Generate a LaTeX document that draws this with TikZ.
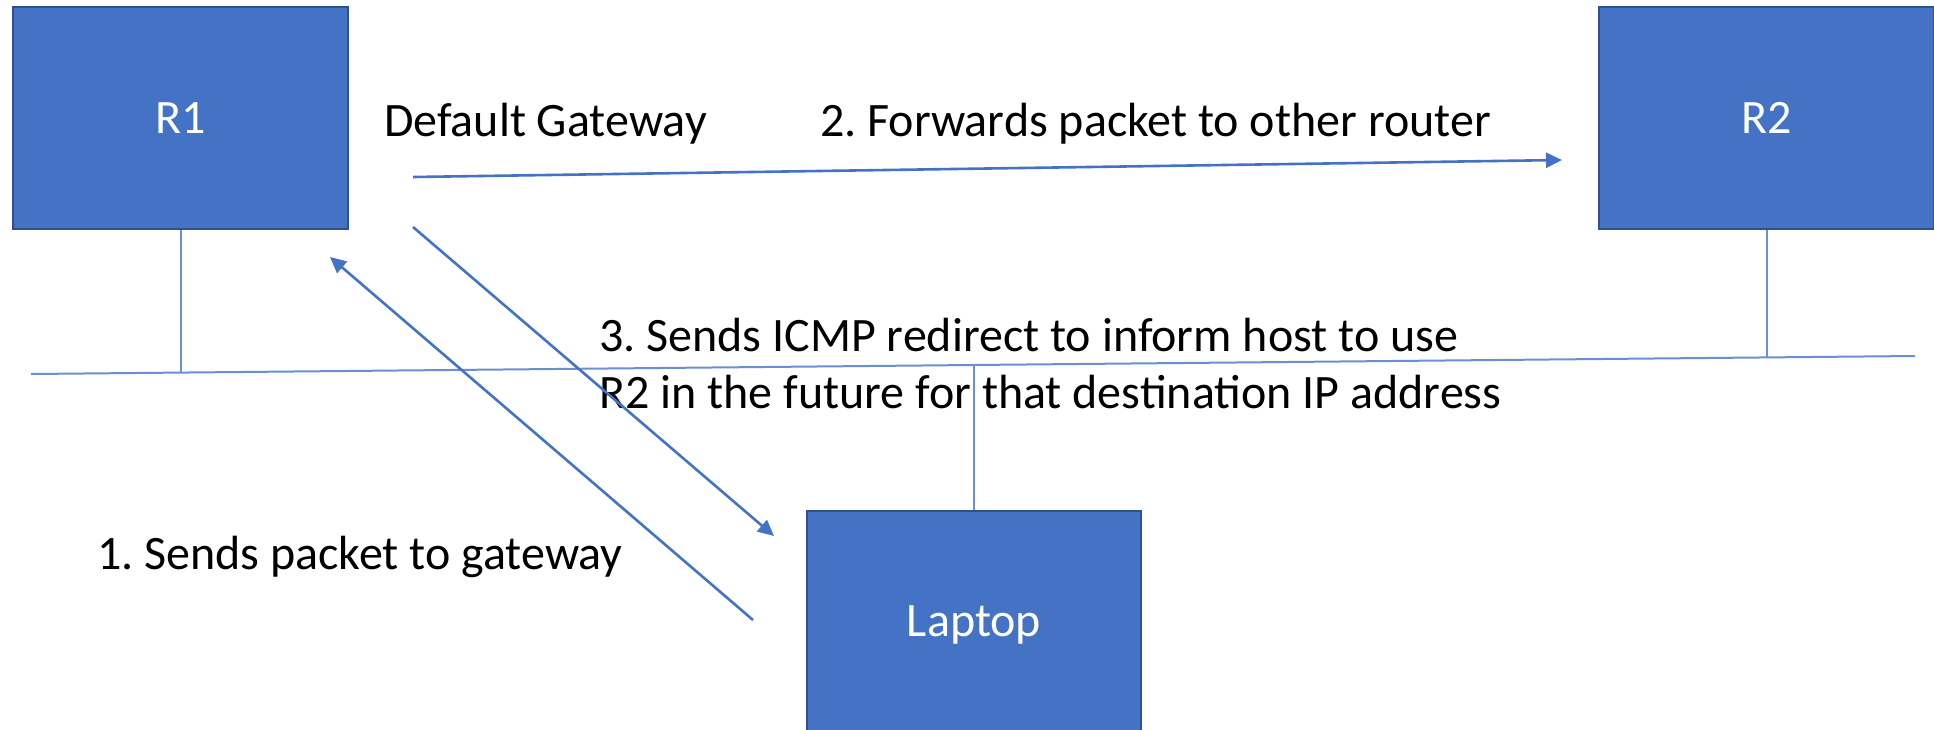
\documentclass[tikz,border=0pt]{standalone}
\usepackage{fontspec}
\setmainfont{Carlito}
\usetikzlibrary{arrows.meta}
\definecolor{obox}{HTML}{4472C4}
\definecolor{oedge}{HTML}{2F528F}
\definecolor{owire}{HTML}{6A8FD3}
\frenchspacing
\begin{document}
\begin{tikzpicture}[x=1pt,y=-1pt,
  devbox/.style={draw=oedge,fill=obox,line width=2pt,inner sep=0pt,text=white,
    font=\fontsize{48}{58}\selectfont,text height=31pt,text depth=0pt},
  wire/.style={draw=owire,line width=2pt},
  flow/.style={draw=obox,line width=2.6pt,-{Triangle[length=16pt,width=15pt]}},
  lbl/.style={anchor=base west,inner sep=0pt,font=\fontsize{48}{58}\selectfont,text=black}]
\useasboundingbox (0,0) rectangle (1934,729);
\clip (0,0) rectangle (1934,729);
\fill[white] (0,0) rectangle (1934,729);
% bus
\coordinate (busL) at (31,374);
\coordinate (busR) at (1915,356);
\coordinate (tR1) at (180.5,372.6);
\coordinate (tLap) at (974,365);
\coordinate (tR2) at (1766.5,357.4);
\draw[wire] (busL) -- (busR);
% devices
\node[devbox,minimum width=335pt,minimum height=222pt] (R1) at (180.5,118) {R1};
\node[devbox,minimum width=335pt,minimum height=222pt] (R2) at (1766.5,118) {R2};
\node[devbox,minimum width=334pt,minimum height=220pt] (Lap) at (974,621) {Laptop};
\draw[wire] (R1.south) -- (tR1);
\draw[wire] (R2.south) -- (tR2);
\draw[wire] (Lap.north) -- (tLap);
% labels
\node[lbl] (dg) at (384,136) {Default Gateway};
\node[lbl] (s2) at (820,136) {2. Forwards packet to other router};
\node[lbl] (s3a) at (599,351) {3. Sends ICMP redirect to inform host to use};
\node[lbl] (s3b) at (599,408) {R2 in the future for that destination IP address};
\node[lbl] (s1) at (97,569) {1. Sends packet to gateway};
% flows
\coordinate (a2s) at (413,177);
\coordinate (a2e) at (1562,160);
\coordinate (a3s) at (413,227);
\coordinate (a3e) at (774,536);
\coordinate (a1s) at (753,620);
\coordinate (a1e) at (330,257);
\draw[flow] (a2s) -- (a2e);
\draw[flow] (a3s) -- (a3e);
\draw[flow] (a1s) -- (a1e);
\end{tikzpicture}
\end{document}
